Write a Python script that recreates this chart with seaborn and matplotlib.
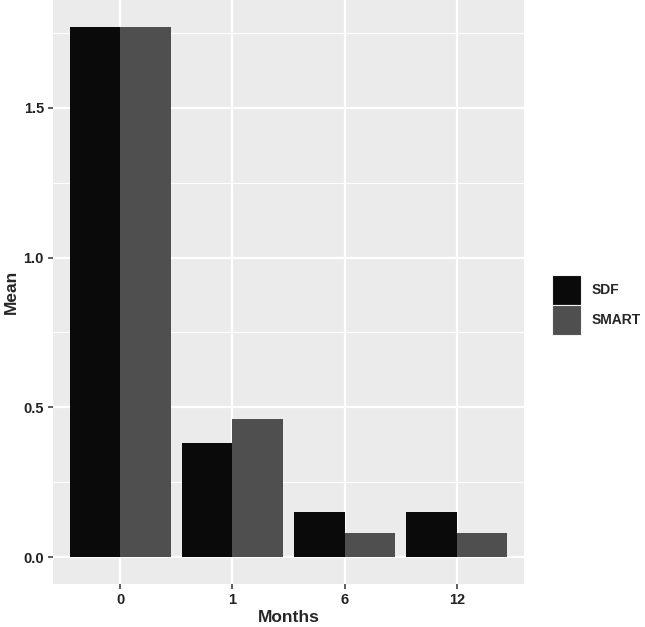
import matplotlib
matplotlib.use("Agg")
import matplotlib.pyplot as plt
from matplotlib.patches import Patch
from matplotlib.ticker import MultipleLocator
import seaborn as sns
import pandas as pd

months = ["0", "1", "6", "12"]
sdf_mean = [1.77, 0.38, 0.15, 0.15]
smart_mean = [1.77, 0.463, 0.083, 0.083]
groups = ["SDF", "SMART"]
colors = {"SDF": "#0A0A0A", "SMART": "#4F4F4F"}

df = pd.DataFrame({
    "Months": months * 2,
    "Mean": sdf_mean + smart_mean,
    "group": [groups[0]] * len(months) + [groups[1]] * len(months),
})

sns.set_style("darkgrid")
plt.rcParams["font.family"] = ["Liberation Sans", "DejaVu Sans"]

fig = plt.figure(figsize=(6.45, 6.27), dpi=100)
ax = fig.add_axes([53 / 645, 1 - 584 / 627, (524 - 53) / 645, 584 / 627])
ax.set_facecolor("#EBEBEB")

sns.barplot(data=df, x="Months", y="Mean", hue="group", order=months,
            hue_order=groups, palette=colors, width=0.9, gap=0,
            saturation=1, linewidth=0, ax=ax, legend=False)

ymax = max(sdf_mean + smart_mean)
ax.set_ylim(-0.05 * ymax, 1.05 * ymax)
ax.set_xlim(-0.6, len(months) - 0.4)
ax.yaxis.set_major_locator(MultipleLocator(0.5))
ax.yaxis.set_minor_locator(MultipleLocator(0.25))
ax.set_axisbelow(True)
ax.grid(which="major", color="white", linewidth=1.6)
ax.grid(which="minor", axis="y", color="white", linewidth=0.8)
ax.grid(which="minor", axis="x", visible=False)
for s in ax.spines.values():
    s.set_visible(False)

ax.tick_params(axis="both", which="major", length=3.5, width=1.1,
               color="#333333", labelsize=10.5, labelcolor="#222222",
               direction="out", pad=3, bottom=True, left=True)
ax.tick_params(which="minor", length=0)
ax.set_yticks([0, 0.5, 1.0, 1.5])
ax.set_yticklabels(["0.0", "0.5", "1.0", "1.5"], fontweight="bold")
for lab in ax.get_xticklabels():
    lab.set_fontweight("bold")

ax.set_xlabel("Months", fontsize=12.5, fontweight="bold", labelpad=2)
ax.set_ylabel("Mean", fontsize=12.5, fontweight="bold", labelpad=3)

handles = [Patch(facecolor=colors[g], edgecolor="#F2F2F2", linewidth=0.8,
                 label=g) for g in groups]
fig.legend(handles=handles, loc="center left",
           bbox_to_anchor=(546 / 645, 1 - 305 / 627), frameon=False,
           handlelength=2.1, handleheight=2.9, handletextpad=0.8,
           labelspacing=0.0, borderaxespad=0,
           prop={"size": 10, "weight": "bold"})

fig.savefig("out.png", dpi=100)
